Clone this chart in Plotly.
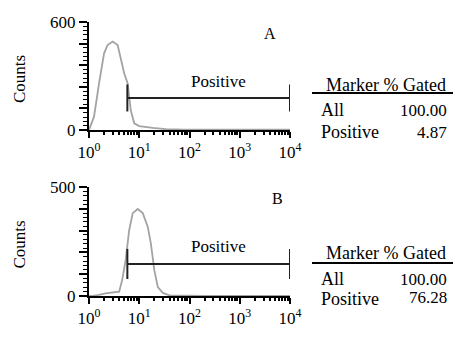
import plotly.graph_objects as go

# ---------------- data ----------------
# Histogram A (log10 fluorescence, counts)
a_log = [0.0, 0.1, 0.2, 0.3, 0.37, 0.47, 0.57, 0.63, 0.7, 0.77, 0.83, 0.9, 1.0, 1.27, 1.53, 1.8, 2.2, 2.6, 3.0, 3.4, 3.8, 4.0]
a_counts = [0, 74, 259, 426, 472, 491, 472, 407, 315, 259, 111, 37, 22, 12, 5, 3, 2, 2, 2, 2, 2, 2]
# Histogram B
b_log = [0.0, 0.07, 0.2, 0.33, 0.6, 0.66, 0.73, 0.8, 0.87, 0.97, 1.07, 1.17, 1.23, 1.3, 1.37, 1.47, 1.6, 1.9, 2.3, 2.7, 3.1, 3.5, 4.0]
b_counts = [0, 0, 5, 12, 20, 73, 165, 303, 380, 399, 380, 317, 243, 119, 41, 14, 3, 1, 1, 1, 1, 1, 1]

panel_labels = ["A", "B"]
y_max = [600, 500]
y_step = [120, 100]
gate_low = [5.8, 5.8]
gate_high = [10000, 10000]
gate_level = [178, 147]
gate_cap = [75, 69]
gated_all = ["100.00", "100.00"]
gated_pos = ["4.87", "76.28"]
x_tickvals = [1, 10, 100, 1000, 10000]
x_ticktext = ["10<sup>0</sup>", "10<sup>1</sup>", "10<sup>2</sup>", "10<sup>3</sup>", "10<sup>4</sup>"]

W, H = 461, 337
FONT = "Liberation Serif"
OFF = 8  # page body margin of the rendered html

def px(x):
    return (x - OFF) / W

def py(y):
    return 1 - (y - OFF) / H

fig = go.Figure()

# panel pixel geometry: (y of zero, y of max)
panels = [(130, 22), (296, 187)]
x_left, x_right = 89, 290

def ann(text, x, y, size, xanchor="center", angle=0):
    return dict(text=text, x=px(x), y=py(y), xref="paper", yref="paper",
                xanchor=xanchor, yanchor="middle", textangle=angle, showarrow=False,
                font=dict(family=FONT, size=size, color="black"))

hists = [(a_log, a_counts), (b_log, b_counts)]
annotations = []
shapes = []
for i, ((logs, counts), (y0, y1)) in enumerate(zip(hists, panels)):
    xa = "x" if i == 0 else "x2"
    ya = "y" if i == 0 else "y2"
    fig.add_trace(go.Scatter(
        x=[10 ** v for v in logs], y=counts, mode="lines",
        line=dict(color="#a3a3a3", width=1.8), xaxis=xa, yaxis=ya,
        showlegend=False, hoverinfo="skip"))
    fig.add_trace(go.Scatter(
        x=[gate_low[i], gate_high[i]], y=[gate_level[i], gate_level[i]],
        mode="lines", line=dict(color="#222", width=2),
        error_y=dict(type="data", array=[gate_cap[i]] * 2, color="#222",
                     thickness=2, width=0),
        xaxis=xa, yaxis=ya, showlegend=False, hoverinfo="skip"))
    axis_common = dict(showgrid=False, zeroline=False, automargin=False)
    xaxis = dict(type="log", range=[0, 4], domain=[px(x_left), px(x_right)],
                 anchor=ya, showline=True, linecolor="black", linewidth=2,
                 ticks="outside", ticklen=6, tickwidth=2, tickcolor="black",
                 tickvals=x_tickvals, ticktext=x_ticktext,
                 tickfont=dict(family=FONT, size=17, color="black"),
                 minor=dict(ticks="outside", ticklen=3, tickwidth=1.5, tickcolor="black",
                            tickvals=[m * 10 ** d for d in range(4) for m in range(2, 10)]),
                 **axis_common)
    ticks = list(range(0, y_max[i] + 1, y_step[i]))
    minor_step = y_step[i] // 5
    yaxis = dict(range=[0, y_max[i]], domain=[py(y0), py(y1)], anchor=xa,
                 showline=True, linecolor="black", linewidth=2,
                 ticks="outside", ticklen=8, tickwidth=2, tickcolor="black",
                 tickvals=ticks,
                 ticktext=[str(t) if t in (0, y_max[i]) else "" for t in ticks],
                 tickfont=dict(family=FONT, size=17, color="black"),
                 minor=dict(ticks="outside", ticklen=4, tickwidth=1.2, tickcolor="black",
                            tickvals=[v for v in range(0, y_max[i] + 1, minor_step) if v not in ticks]),
                 **axis_common)
    if i == 0:
        fig.update_layout(xaxis=xaxis, yaxis=yaxis)
    else:
        fig.update_layout(xaxis2=xaxis, yaxis2=yaxis)

    annotations.append(ann("Counts", 19, (y0 + y1) / 2 + 3, 17, angle=-90))
    annotations.append(ann(panel_labels[i], 270 + 7 * i, y1 + 11, 16))
    annotations.append(ann("Positive", 218, y1 + 59, 17))

# tables
table_y = [(85, 93, 110, 132), (253, 263, 279, 299)]
for i, (hy, ly, ay, pyy) in enumerate(table_y):
    annotations.append(ann("Marker % Gated", 448, hy, 18, xanchor="right"))
    shapes.append(dict(type="line", xref="paper", yref="paper", x0=px(312), x1=px(461),
                       y0=py(ly), y1=py(ly), line=dict(color="black", width=2)))
    annotations.append(ann("All", 319, ay, 18, xanchor="left"))
    annotations.append(ann(gated_all[i], 449, ay, 17, xanchor="right"))
    annotations.append(ann("Positive", 319, pyy, 18, xanchor="left"))
    annotations.append(ann(gated_pos[i], 449, pyy - 2 * i, 17, xanchor="right"))

fig.update_layout(width=W, height=H, margin=dict(l=0, r=0, t=0, b=0),
                  template="none",
                  paper_bgcolor="white", plot_bgcolor="white",
                  annotations=annotations, shapes=shapes, showlegend=False)

fig.write_html("out.html", config={"displayModeBar": False})
